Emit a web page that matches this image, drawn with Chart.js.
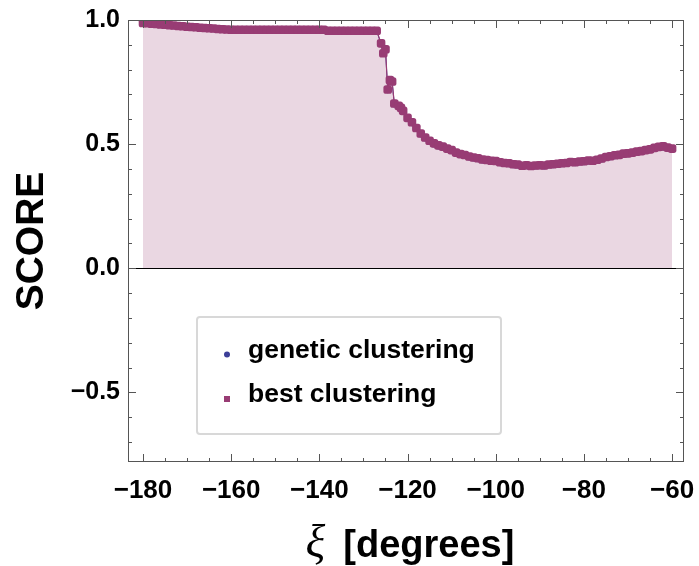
<!DOCTYPE html>
<html>
<head>
<meta charset="utf-8">
<script src="https://cdn.jsdelivr.net/npm/chart.js@4.4.0/dist/chart.umd.min.js"></script>
<style>
html, body { margin: 0; padding: 0; background: #fff; }
#wrap { width: 699px; height: 566px; position: relative; }
</style>
</head>
<body>
<div id="wrap"><canvas id="myChart" width="699" height="566"></canvas></div>
<script>
'use strict';
// xi angle (degrees) for each sample
const aryXi = [
	-180, -179, -178, -177, -176, -175, -174, -173, -172, -171,
	-170, -169, -168, -167, -166, -165, -164, -163, -162, -161,
	-160, -159, -158, -157, -156, -155, -154, -153, -152, -151,
	-150, -149, -148, -147, -146, -145, -144, -143, -142, -141,
	-140, -139, -138, -137, -136, -135, -134, -133, -132, -131,
	-130, -129, -128, -127, -126, -125.5, -125, -124.5, -124, -123.5,
	-123, -122, -121.5, -121, -120, -119, -118, -117, -116, -115,
	-114, -113, -112, -111, -110, -109, -108, -107, -106, -105,
	-104, -103, -102, -101, -100, -99, -98, -97, -96, -95,
	-94, -93, -92, -91, -90, -89, -88, -87, -86, -85,
	-84, -83, -82, -81, -80, -79, -78, -77, -76, -75,
	-74, -73, -72, -71, -70, -69, -68, -67, -66, -65,
	-64, -63, -62, -61, -60,
];
const aryBestScore = [
	0.988, 0.987, 0.985, 0.984, 0.982, 0.981, 0.979, 0.978, 0.976, 0.975,
	0.973, 0.972, 0.971, 0.969, 0.968, 0.967, 0.966, 0.964, 0.963, 0.962,
	0.961, 0.961, 0.961, 0.961, 0.961, 0.961, 0.961, 0.961, 0.961, 0.961,
	0.961, 0.961, 0.961, 0.961, 0.961, 0.961, 0.961, 0.961, 0.961, 0.961,
	0.961, 0.961, 0.957, 0.957, 0.957, 0.957, 0.957, 0.957, 0.957, 0.957,
	0.957, 0.957, 0.957, 0.957, 0.906, 0.866, 0.882, 0.720, 0.758, 0.752,
	0.664, 0.655, 0.646, 0.634, 0.606, 0.588, 0.565, 0.543, 0.527, 0.514,
	0.503, 0.495, 0.490, 0.482, 0.476, 0.466, 0.460, 0.456, 0.450, 0.446,
	0.443, 0.438, 0.436, 0.433, 0.432, 0.427, 0.424, 0.423, 0.419, 0.418,
	0.413, 0.415, 0.412, 0.414, 0.415, 0.414, 0.418, 0.419, 0.421, 0.423,
	0.424, 0.428, 0.427, 0.430, 0.431, 0.434, 0.433, 0.437, 0.442, 0.448,
	0.451, 0.455, 0.457, 0.462, 0.463, 0.466, 0.470, 0.472, 0.476, 0.479,
	0.485, 0.489, 0.491, 0.486, 0.482,
];
const aryGeneticScore = [
	0.987, 0.986, 0.985, 0.983, 0.982, 0.980, 0.979, 0.977, 0.976, 0.974,
	0.973, 0.972, 0.970, 0.969, 0.968, 0.967, 0.965, 0.964, 0.963, 0.962,
	0.961, 0.961, 0.960, 0.961, 0.961, 0.960, 0.961, 0.961, 0.961, 0.960,
	0.961, 0.961, 0.961, 0.960, 0.961, 0.961, 0.961, 0.960, 0.961, 0.961,
	0.960, 0.961, 0.956, 0.957, 0.957, 0.956, 0.957, 0.957, 0.956, 0.957,
	0.957, 0.956, 0.957, 0.956, 0.904, 0.866, 0.880, 0.719, 0.757, 0.750,
	0.662, 0.654, 0.644, 0.632, 0.604, 0.586, 0.563, 0.541, 0.525, 0.512,
	0.501, 0.493, 0.488, 0.480, 0.474, 0.464, 0.458, 0.454, 0.448, 0.444,
	0.441, 0.436, 0.434, 0.431, 0.430, 0.425, 0.422, 0.421, 0.417, 0.416,
	0.411, 0.413, 0.410, 0.412, 0.413, 0.412, 0.416, 0.417, 0.419, 0.421,
	0.422, 0.426, 0.425, 0.428, 0.429, 0.432, 0.431, 0.435, 0.440, 0.446,
	0.449, 0.453, 0.455, 0.460, 0.461, 0.464, 0.468, 0.470, 0.474, 0.477,
	0.483, 0.487, 0.489, 0.484, 0.480,
];
const aryXTicks = [-180, -160, -140, -120, -100, -80, -60];
const aryYTicks = [-0.5, 0, 0.5, 1];
const strLabelGenetic = 'genetic clustering';
const strLabelBest = 'best clustering';

const colBlue = '#3c3e98';
const colPurple = '#983c74';
const colFill = 'rgb(234, 215, 226)';
const strFont = '"Liberation Sans", Arial, Helvetica, sans-serif';

function fmtMinus(v, digits) {
	const s = digits ? Math.abs(v).toFixed(digits) : String(Math.abs(v));
	return (v < 0 ? '\u2212' : '') + s;
}

function toPoints(xs, ys) {
	return xs.map((x, i) => ({ x: x, y: ys[i] }));
}

// frame with inward ticks on all four sides, plus the zero line
const pluginFrame = {
	id: 'pluginFrame',
	afterDatasetsDraw(chart) {
		const { ctx, chartArea: a, scales: { x, y } } = chart;
		ctx.save();
		ctx.lineWidth = 1;
		// zero line
		const y0 = Math.round(y.getPixelForValue(0)) + 0.5;
		ctx.strokeStyle = '#000';
		ctx.beginPath();
		ctx.moveTo(a.left, y0);
		ctx.lineTo(a.right, y0);
		ctx.stroke();

		ctx.strokeStyle = '#555';
		ctx.beginPath();
		for (let v = -180; v <= -60; v += 5) {
			const px = Math.round(x.getPixelForValue(v)) + 0.5;
			const len = aryXTicks.includes(v) ? 8 : 4;
			ctx.moveTo(px, a.bottom);
			ctx.lineTo(px, a.bottom - len);
			ctx.moveTo(px, a.top);
			ctx.lineTo(px, a.top + len);
		}
		for (let k = -7; k <= 10; k++) {
			const v = k / 10;
			const py = Math.round(y.getPixelForValue(v)) + 0.5;
			const len = (k % 5 === 0) ? 8 : 4;
			ctx.moveTo(a.left, py);
			ctx.lineTo(a.left + len, py);
			ctx.moveTo(a.right, py);
			ctx.lineTo(a.right - len, py);
		}
		ctx.stroke();
		ctx.strokeRect(a.left + 0.5, a.top + 0.5, a.width - 1, a.height - 1);
		ctx.restore();
	},
};

// legend box inside the plot area
const pluginLegendBox = {
	id: 'pluginLegendBox',
	afterDraw(chart) {
		const { ctx, chartArea: a } = chart;
		const bx = a.left + 69, by = a.top + 297, bw = 304, bh = 117;
		ctx.save();
		ctx.fillStyle = '#fff';
		ctx.strokeStyle = '#d8d8d8';
		ctx.lineWidth = 2;
		ctx.beginPath();
		ctx.roundRect(bx, by, bw, bh, 3);
		ctx.fill();
		ctx.stroke();

		ctx.fillStyle = colBlue;
		ctx.beginPath();
		ctx.arc(bx + 30, by + 37.5, 3, 0, Math.PI * 2);
		ctx.fill();
		ctx.fillStyle = colPurple;
		ctx.fillRect(bx + 27, by + 79, 6, 6);

		ctx.fillStyle = '#000';
		ctx.font = 'bold 26.5px ' + strFont;
		ctx.textBaseline = 'middle';
		ctx.textAlign = 'left';
		ctx.fillText(strLabelGenetic, bx + 51, by + 34);
		ctx.fillText(strLabelBest, bx + 51, by + 78);
		ctx.restore();
	},
};

// x axis title with italic serif xi
const pluginXTitle = {
	id: 'pluginXTitle',
	afterDraw(chart) {
		const { ctx, chartArea: a } = chart;
		const fontXi = 'italic 46px "Liberation Serif", "Times New Roman", serif';
		const fontRest = 'bold 38px ' + strFont;
		const sXi = '\u03BE', sRest = '[degrees]';
		const gap = 18;
		ctx.save();
		ctx.font = fontXi;
		const w1 = ctx.measureText(sXi).width;
		ctx.font = fontRest;
		const w2 = ctx.measureText(sRest).width;
		const x0 = (a.left + a.right) / 2 + 4 - (w1 + gap + w2) / 2;
		const yb = 557;
		ctx.fillStyle = '#000';
		ctx.textBaseline = 'alphabetic';
		ctx.textAlign = 'left';
		ctx.font = fontXi;
		ctx.fillText(sXi, x0, yb);
		ctx.font = fontRest;
		ctx.fillText(sRest, x0 + w1 + gap, yb);
		ctx.restore();
	},
};

function chartIt() {
	const config = {
		type: 'line',
		data: {
			datasets: [
				{
					label: strLabelBest,
					data: toPoints(aryXi, aryBestScore),
					borderColor: colPurple,
					borderWidth: 1.2,
					backgroundColor: colFill,
					pointStyle: 'rectRounded',
					pointRadius: 5,
					pointBackgroundColor: colPurple,
					pointBorderWidth: 0,
					fill: 'origin',
					tension: 0,
				},
				{
					label: strLabelGenetic,
					data: toPoints(aryXi, aryGeneticScore),
					borderColor: colBlue,
					borderWidth: 1,
					pointStyle: 'circle',
					pointRadius: 3.5,
					pointBackgroundColor: colBlue,
					pointBorderWidth: 0,
					fill: false,
					tension: 0,
				},
			],
		},
		options: {
			responsive: false,
			animation: false,
			layout: { padding: { top: 20, right: 15, left: 0, bottom: 0 } },
			plugins: {
				legend: { display: false },
				tooltip: { enabled: false },
				filler: { drawTime: 'beforeDatasetsDraw' },
			},
			scales: {
				x: {
					type: 'linear',
					min: -183.4,
					max: -57.3,
					afterBuildTicks: (scale) => { scale.ticks = aryXTicks.map(v => ({ value: v })); },
					afterFit: (scale) => { scale.height = 104; scale.paddingLeft = 0; scale.paddingRight = 0; },
					grid: { display: false, drawTicks: false },
					border: { display: false },
					ticks: {
						padding: 13,
						color: '#000',
						maxRotation: 0,
						autoSkip: false,
						font: { family: strFont, size: 26, weight: 'bold' },
						callback: (v) => fmtMinus(v, 0),
					},
				},
				y: {
					type: 'linear',
					min: -0.78,
					max: 1.0,
					afterBuildTicks: (scale) => { scale.ticks = aryYTicks.map(v => ({ value: v })); },
					afterFit: (scale) => { scale.width = 128; scale.paddingTop = 0; scale.paddingBottom = 0; },
					grid: { display: false, drawTicks: false },
					border: { display: false },
					title: {
						display: true,
						text: 'SCORE',
						color: '#000',
						padding: { top: 9, bottom: 0 },
						font: { family: strFont, size: 39, weight: 'bold', lineHeight: 1.2 },
					},
					ticks: {
						padding: 8,
						color: '#000',
						autoSkip: false,
						font: { family: strFont, size: 25, weight: 'bold' },
						callback: (v) => fmtMinus(v, 1),
					},
				},
			},
		},
		plugins: [pluginFrame, pluginLegendBox, pluginXTitle],
	};
	return new Chart(document.getElementById('myChart'), config);
}

// *** Entry Point ***
const myChart = chartIt();
</script>
</body>
</html>
